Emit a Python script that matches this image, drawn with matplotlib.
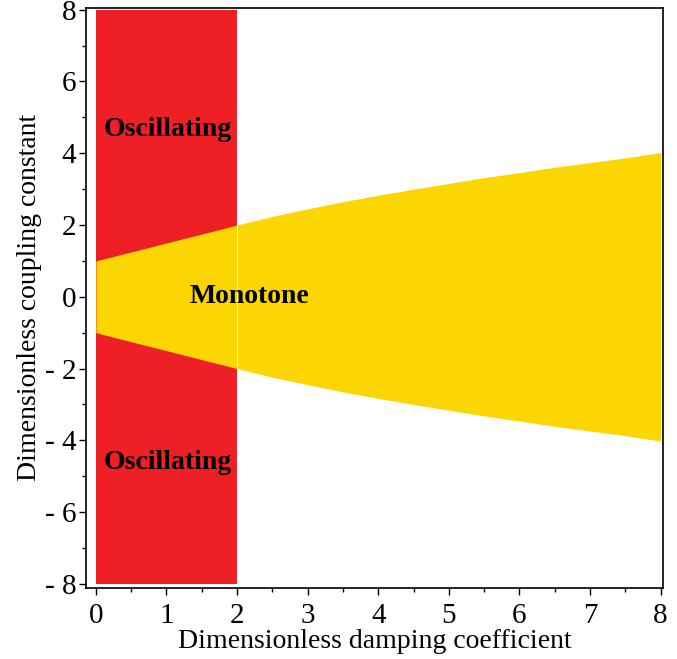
import numpy as np
import matplotlib.pyplot as plt

plt.rcParams['font.family'] = ['Liberation Serif', 'DejaVu Serif']

# boundary of the monotone region (upper edge; lower edge is the mirror)
bound_x = [0.0, 0.5, 1.0, 1.5, 2.0, 2.5, 3.0, 3.5, 4.0, 4.5, 5.0, 5.5, 6.0, 6.5, 7.0, 7.5, 8.0]
bound_y = [1.0, 1.25, 1.5, 1.75, 2.0, 2.24, 2.45, 2.65, 2.83, 3.0, 3.16, 3.32, 3.46, 3.61, 3.74, 3.87, 4.02]

# oscillating band
osc_x = [0.0, 2.0]
osc_y = [-8.0, 8.0]

labels = ['Oscillating', 'Monotone', 'Oscillating']
label_x = [1.02, 2.18, 1.02]
label_y = [4.65, 0.0, -4.62]

red = '#ee2026'
yellow = '#fbd603'

fig = plt.figure(figsize=(6.77, 6.59), dpi=100)
ax = fig.add_axes([0.127, 0.108, 0.853, 0.880])

ax.fill_between(osc_x, osc_y[0], osc_y[1], color=red, lw=0)
bx = np.array(bound_x)
by = np.array(bound_y)
ax.fill_between(bx, -by, by, color=yellow, lw=0)
ax.axvline(osc_x[1], color='white', lw=0.8, alpha=0.7)

for t, x, y in zip(labels, label_x, label_y):
    ax.text(x, y, t, ha='center', va='center', fontsize=20, fontweight='bold')

ax.set_xlim(-0.14, 8.04)
ax.set_ylim(-8.11, 8.05)
ax.set_xticks(range(0, 9))
ax.set_xticks(np.arange(0.5, 8, 1.0), minor=True)
ax.set_yticks(range(-8, 9, 2))
ax.set_yticks(range(-7, 8, 2), minor=True)
ax.set_yticklabels(['- 8', '- 6', '- 4', '- 2', '0', '2', '4', '6', '8'])
ax.tick_params(labelsize=21, length=5, width=1, direction='out', pad=2)
ax.tick_params(axis='x', pad=6)
ax.tick_params(which='minor', length=3, width=1)
for s in ax.spines.values():
    s.set_linewidth(1.2)

ax.set_xlabel('Dimensionless damping coefficient', fontsize=20, labelpad=0)
ax.set_ylabel('Dimensionless coupling constant', fontsize=20, labelpad=2)

fig.savefig('out.png', dpi=100)
